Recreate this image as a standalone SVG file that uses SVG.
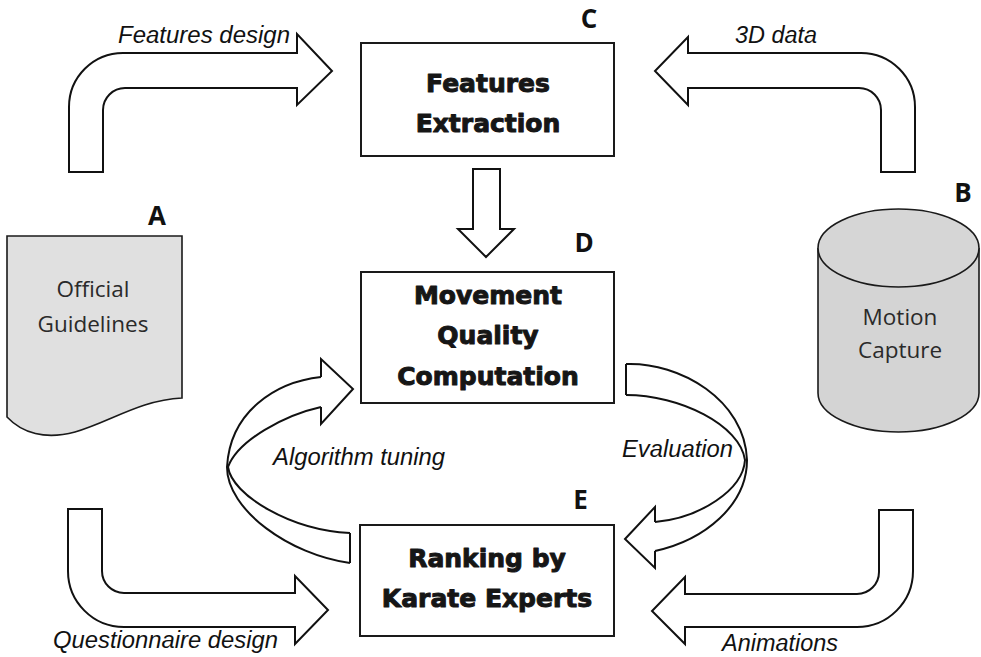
<svg xmlns="http://www.w3.org/2000/svg" width="981" height="657" viewBox="0 0 981 657">
<style>
.bg{fill:#fff}
.box{fill:#fff;stroke:#1a1a1a;stroke-width:2}
.arr{fill:#fff;stroke:#111;stroke-width:2;stroke-linejoin:miter}
.ln{fill:none;stroke:#111;stroke-width:2;stroke-linejoin:miter}
.bold{font-family:"DejaVu Sans",sans-serif;font-weight:bold;font-size:25px;fill:#161616;stroke:#161616;stroke-width:1;stroke-linejoin:round;text-anchor:middle}
.lab{font-family:"Open Sans",sans-serif;font-weight:bold;font-size:26px;fill:#111;text-anchor:middle}
.it{font-family:"Liberation Sans",Arial,sans-serif;font-style:italic;font-size:23px;fill:#111}
.reg{font-family:"Open Sans",sans-serif;font-size:22.5px;fill:#2a2a2a;text-anchor:middle}
</style>
<rect class="bg" x="0" y="0" width="981" height="657"/>

<g id="connectors">
  <g id="arrow-features-design">
    <path class="arr" d="M69,172 V107 A54,54 0 0 1 123,53 H297 V34 L332,71 L297,105 V88 H125 A22,22 0 0 0 103,110 V172 Z"/>
    <text class="it" x="118" y="42.5" textLength="172" lengthAdjust="spacingAndGlyphs">Features design</text>
  </g>
  <g id="arrow-3d-data">
    <path class="arr" d="M915,172 V107 A54,54 0 0 0 861,53 H688 V37 L655,71 L688,105 V88 H859 A22,22 0 0 1 881,110 V172 Z"/>
    <text class="it" x="735" y="43" textLength="82" lengthAdjust="spacingAndGlyphs">3D data</text>
  </g>
  <g id="arrow-c-d">
    <path class="arr" d="M473,169 H500 V229 H514 L486,257 L458,229 H473 Z"/>
  </g>
  <g id="arrow-questionnaire">
    <path class="arr" d="M68,509 H102 V571 A22,22 0 0 0 124,593 H295 V576 L328,610 L295,644 V627 H124 A56,56 0 0 1 68,571 Z"/>
    <text class="it" x="53" y="648" textLength="225" lengthAdjust="spacingAndGlyphs">Questionnaire design</text>
  </g>
  <g id="arrow-animations">
    <path class="arr" d="M913,510 H879 V572 A22,22 0 0 1 857,594 H685 V577 L652,611 L685,644 V627 H857 A56,56 0 0 0 913,571 Z"/>
    <text class="it" x="722" y="651" textLength="116" lengthAdjust="spacingAndGlyphs">Animations</text>
  </g>
  <g id="arrow-algorithm-tuning">
    <path class="ln" d="M321,377 C275,382 230,412 227,467 C227,510 290,555 350,563"/>
    <path class="ln" d="M321,407 C285,415 238,440 228,467 C232,495 290,530 350,533"/>
    <path class="ln" d="M350,533 V563"/>
    <path class="ln" d="M321,377 V359 L353,389 L321,424 V407"/>
    <text class="it" x="273" y="465" textLength="172" lengthAdjust="spacingAndGlyphs">Algorithm tuning</text>
  </g>
  <g id="arrow-evaluation">
    <path class="ln" d="M626,364 C680,362 745,400 747,460 C747,505 705,540 655,551"/>
    <path class="ln" d="M626,395 C680,395 740,425 745,460 C743,490 700,518 655,522"/>
    <path class="ln" d="M626,364 V395"/>
    <path class="ln" d="M655,522 V507 L625,539 L655,568 V551"/>
    <text class="it" x="622" y="457" textLength="111" lengthAdjust="spacingAndGlyphs">Evaluation</text>
  </g>
</g>

<g id="node-A">
  <path d="M7,236 H182 V398 C140,400 110,422 75,432 C45,440 22,433 7,417 Z" fill="#e0e0e0" stroke="#1a1a1a" stroke-width="1.6"/>
  <text class="reg" x="93" y="297">Official</text>
  <text class="reg" x="93" y="332">Guidelines</text>
  <text class="lab" x="157" y="225">A</text>
</g>

<g id="node-B">
  <path d="M818,248 V393 A80.5,39 0 0 0 979,393 V248" fill="#d4d4d4" stroke="#1a1a1a" stroke-width="1.6"/>
  <ellipse cx="898.5" cy="248" rx="80.5" ry="39" fill="#d6d6d6" stroke="#1a1a1a" stroke-width="1.6"/>
  <text class="reg" x="900" y="325">Motion</text>
  <text class="reg" x="900" y="358">Capture</text>
  <text class="lab" x="963" y="202">B</text>
</g>

<g id="node-C">
  <rect class="box" x="361" y="43" width="253" height="113"/>
  <text class="bold" x="488" y="92">Features</text>
  <text class="bold" x="488" y="132">Extraction</text>
  <text class="lab" x="589" y="28">C</text>
</g>

<g id="node-D">
  <rect class="box" x="361" y="272" width="253" height="131"/>
  <text class="bold" x="488" y="304">Movement</text>
  <text class="bold" x="488" y="344">Quality</text>
  <text class="bold" x="488" y="385">Computation</text>
  <text class="lab" x="584" y="252">D</text>
</g>

<g id="node-E">
  <rect class="box" x="360" y="525" width="254" height="111"/>
  <text class="bold" x="487" y="567">Ranking by</text>
  <text class="bold" x="487" y="607">Karate Experts</text>
  <text class="lab" x="580.5" y="509">E</text>
</g>
</svg>
